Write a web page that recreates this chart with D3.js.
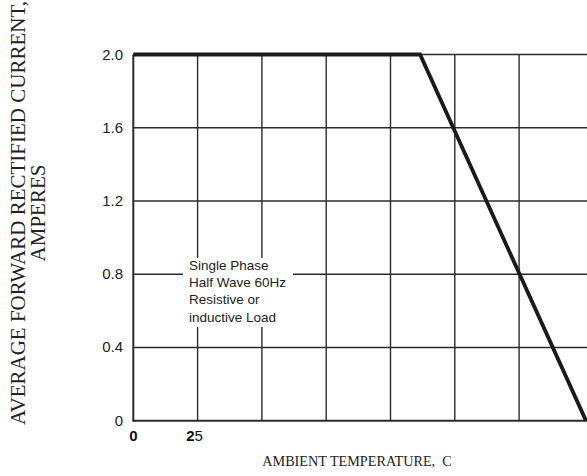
<!DOCTYPE html>
<html><head><meta charset="utf-8">
<script src="https://cdn.jsdelivr.net/npm/d3@7"></script>
<style>html,body{margin:0;padding:0;background:#fff;overflow:hidden}</style>
</head><body>
<svg id="c" width="587" height="476"></svg>
<script>
const yTicks = [0, 0.4, 0.8, 1.2, 1.6, 2.0];
const yTickLabels = ["0", "0.4", "0.8", "1.2", "1.6", "2.0"];
const xGrid = [25, 50, 75, 100, 125, 150];
const xTickLabels = [{v: 0, t: ["0", ""]}, {v: 25, t: ["2", "5"]}];
const tempC = [0, 111.5, 176];
const currentA = [2.0, 2.0, 0];
const noteLines = ["Single Phase", "Half Wave 60Hz", "Resistive or", "inductive Load"];

const svg = d3.select("#c");
const x = d3.scaleLinear().domain([0, 175]).range([133.3, 583.4]);
const y = d3.scaleLinear().domain([0, 2]).range([420.7, 54.5]);
const ink = "#2b2b2b";

svg.append("g").selectAll("line").data(yTicks).join("line")
  .attr("x1", x(0)).attr("x2", 600)
  .attr("y1", d => y(d)).attr("y2", d => y(d))
  .attr("stroke", ink).attr("stroke-width", d => d === 0 ? 2 : 1.4);

svg.append("g").selectAll("line").data(xGrid).join("line")
  .attr("x1", d => x(d)).attr("x2", d => x(d))
  .attr("y1", y(2)).attr("y2", y(0))
  .attr("stroke", ink).attr("stroke-width", 1.4);

svg.append("line").attr("x1", x(0)).attr("x2", x(0)).attr("y1", y(2)).attr("y2", y(0) + 1)
  .attr("stroke", ink).attr("stroke-width", 2);

svg.append("rect").attr("x", 183).attr("y", 258).attr("width", 110).attr("height", 69).attr("fill", "#fff");
const nt = svg.append("text").attr("font-family", "Liberation Sans, Arial, sans-serif")
  .attr("font-size", 13.5).attr("fill", "#222");
const noteY = [270, 287, 303.5, 322];
noteLines.forEach((s, i) => nt.append("tspan").attr("x", 189).attr("y", noteY[i]).text(s));

const line = d3.line().x((d, i) => x(tempC[i])).y((d, i) => y(currentA[i]));
svg.append("path").attr("d", line(tempC)).attr("fill", "none")
  .attr("stroke", "#1a1a1a").attr("stroke-width", 3.8).attr("stroke-linejoin", "miter");

svg.append("g").selectAll("text").data(yTicks).join("text")
  .attr("x", 123).attr("y", d => y(d) + 5)
  .attr("text-anchor", "end")
  .attr("font-family", "Liberation Sans, Arial, sans-serif").attr("font-size", 15).attr("fill", "#222")
  .text((d, i) => yTickLabels[i]);

xTickLabels.forEach(o => {
  const t = svg.append("text").attr("x", x(o.v) + (o.v === 0 ? 0 : -3)).attr("y", 441)
    .attr("text-anchor", "middle")
    .attr("font-family", "Liberation Sans, Arial, sans-serif").attr("font-size", 15).attr("fill", "#111");
  t.append("tspan").attr("font-weight", "bold").text(o.t[0]);
  if (o.t[1]) t.append("tspan").text(o.t[1]);
});

svg.append("text").attr("x", 357).attr("y", 466).attr("text-anchor", "middle")
  .attr("font-family", "Liberation Serif, Times New Roman, serif").attr("font-size", 14.2).attr("fill", "#222")
  .attr("xml:space", "preserve")
  .text("AMBIENT TEMPERATURE,  C");

const yt = svg.append("text").attr("transform", "translate(0,213) rotate(-90)")
  .attr("text-anchor", "middle")
  .attr("font-family", "Liberation Serif, Times New Roman, serif").attr("font-size", 21).attr("fill", "#222");
yt.append("tspan").attr("x", 0).attr("y", 25).text("AVERAGE FORWARD RECTIFIED CURRENT,");
yt.append("tspan").attr("x", 0).attr("y", 45).text("AMPERES");
</script>
</body></html>
